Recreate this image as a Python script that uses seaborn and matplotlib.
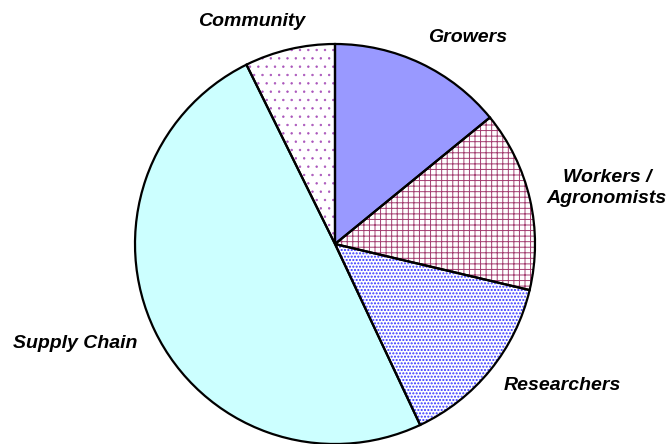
import matplotlib
matplotlib.use("Agg")
import matplotlib.pyplot as plt
import seaborn as sns

categories = ["Growers", "Workers /\nAgronomists", "Researchers", "Supply Chain", "Community"]
values = [14.1, 14.6, 14.3, 49.7, 7.3]
face_colors = ["#9999FF", "white", "white", "#CCFFFF", "white"]
hatches = [None, "+++", ".....", None, ".."]
hatch_colors = ["#9999FF", "#A33D70", "#3333FF", "#CCFFFF", "#AA55BB"]
hatch_widths = [1.0, 0.7, 1.0, 1.0, 0.5]

sns.set_theme(style="white")
plt.rcParams["font.family"] = ["Liberation Sans", "DejaVu Sans"]
plt.rcParams["hatch.linewidth"] = 1.0

fig = plt.figure(figsize=(6.7, 4.44), dpi=100)
ax = fig.add_axes([(335 - 200) / 670, 0.0, 400 / 670, 400 / 444])

# fill + hatch layer
wedges, _ = ax.pie(values, startangle=90, counterclock=False, radius=1,
                   colors=face_colors,
                   wedgeprops=dict(linewidth=0))
for w, h, hc, hw in zip(wedges, hatches, hatch_colors, hatch_widths):
    if h:
        w.set_hatch(h)
        w.set_edgecolor(hc)
        w.set_linewidth(0)
        if hasattr(w, "set_hatch_linewidth"):
            w.set_hatch_linewidth(hw)
        else:
            w._hatch_linewidth = hw

# outline layer
ax.pie(values, startangle=90, counterclock=False, radius=1,
       colors=["none"] * len(values),
       wedgeprops=dict(linewidth=1.6, edgecolor="black", fill=False))

ax.set_xlim(-1, 1)
ax.set_ylim(-1, 1)
ax.set_aspect("equal")
ax.axis("off")

label_pos = [(468, 37), (607, 188), (562, 385), (75, 343), (252, 22)]
for text, (x, y) in zip(categories, label_pos):
    fig.text(x / 670, 1 - y / 444, text, ha="center", va="center",
             fontsize=14, fontweight="bold", fontstyle="italic",
             color="black", linespacing=1.25)

fig.savefig("out.png", dpi=100)
